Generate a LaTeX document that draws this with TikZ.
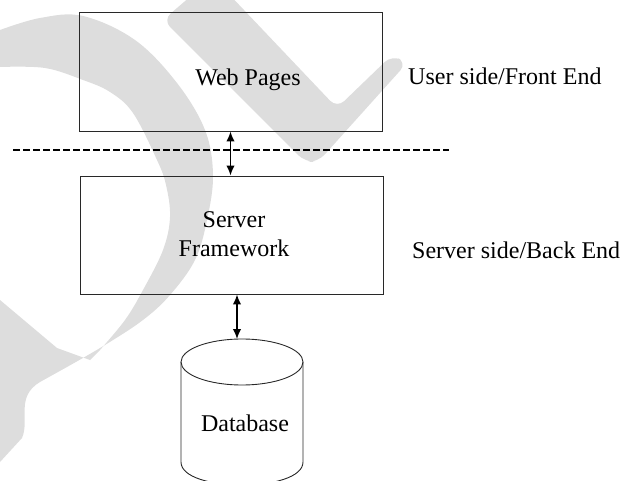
\documentclass[tikz,border=0pt]{standalone}
\usepackage{fontspec}
\setmainfont{Liberation Serif}
\usetikzlibrary{arrows.meta}
\definecolor{wm}{RGB}{221,221,221}
\definecolor{edge}{RGB}{40,40,40}
\begin{document}
\begin{tikzpicture}[x=1pt,y=-1pt,
  font=\fontsize{24}{29}\selectfont,
  box/.style={draw=edge, line width=0.9pt, minimum width=303pt, inner sep=0pt},
  lbl/.style={anchor=base, inner sep=0pt},
  biarrow/.style={line width=1.6pt, {Latex[length=10pt,width=8.5pt]}-{Latex[length=10pt,width=8.5pt]}},
  sepline/.style={line width=1.5pt, dash pattern=on 7pt off 3pt},
  wmark/.style={fill=wm, draw=none}]
\useasboundingbox (0,0) rectangle (626,481);
% watermark
\fill[wmark] plot[smooth, tension=0.6] coordinates {(0,30) (40,18) (83,16) (135,40) (177,83) (205,130) (213,175) (207,220) (195,260) (170,295) (143,320) (105,345) (67,367)}
  -- (40,382) .. controls (15,397) and (30,420) .. (22,438) -- (0,462) -- (0,300) -- (57,348) -- (90,360)
  -- plot[smooth, tension=0.6] coordinates {(100,350) (125,320) (143,290) (163,250) (170,217) (166,185) (157,160) (133,113) (110,92) (83,80) (45,68) (0,67)} -- cycle;
\fill[wmark, rounded corners=10pt] (163,20) -- (198,-10) -- (225,-10) -- (337,108) -- (392,55) -- (407,63) -- (318,162) -- (305,162) -- cycle;
% boxes
\node[box, minimum height=119pt] (web) at (230.5,71.5) {};
\node[box, minimum height=118pt] (srv) at (231.5,235) {};
\node[lbl] (webtxt) at (248,86) {Web Pages};
\node[align=center, inner sep=0pt] (srvtxt) at (234,234) {Server\\Framework};
\node[lbl, anchor=base west] (user) at (408,85) {User side/Front End};
\node[lbl, anchor=base west] (back) at (412,258) {Server side/Back End};
% separator
\coordinate (dl) at (13,150);
\coordinate (dr) at (449,150);
\draw[sepline] (dl) -- (dr);
% database
\draw[edge, line width=0.9pt] (181,362) -- (181,462) .. controls (181,492.7) and (303,492.7) .. (303,462) -- (303,362);
\draw[edge, line width=0.9pt] (242,362) ellipse [x radius=61, y radius=23];
\coordinate (dbtop) at (237,339);
\node[lbl] (db) at (245,431) {Database};
% connectors
\draw[biarrow] (web.south) -- (web.south |- srv.north);
\draw[biarrow] (srv.south -| dbtop) -- (dbtop);
\end{tikzpicture}
\end{document}
